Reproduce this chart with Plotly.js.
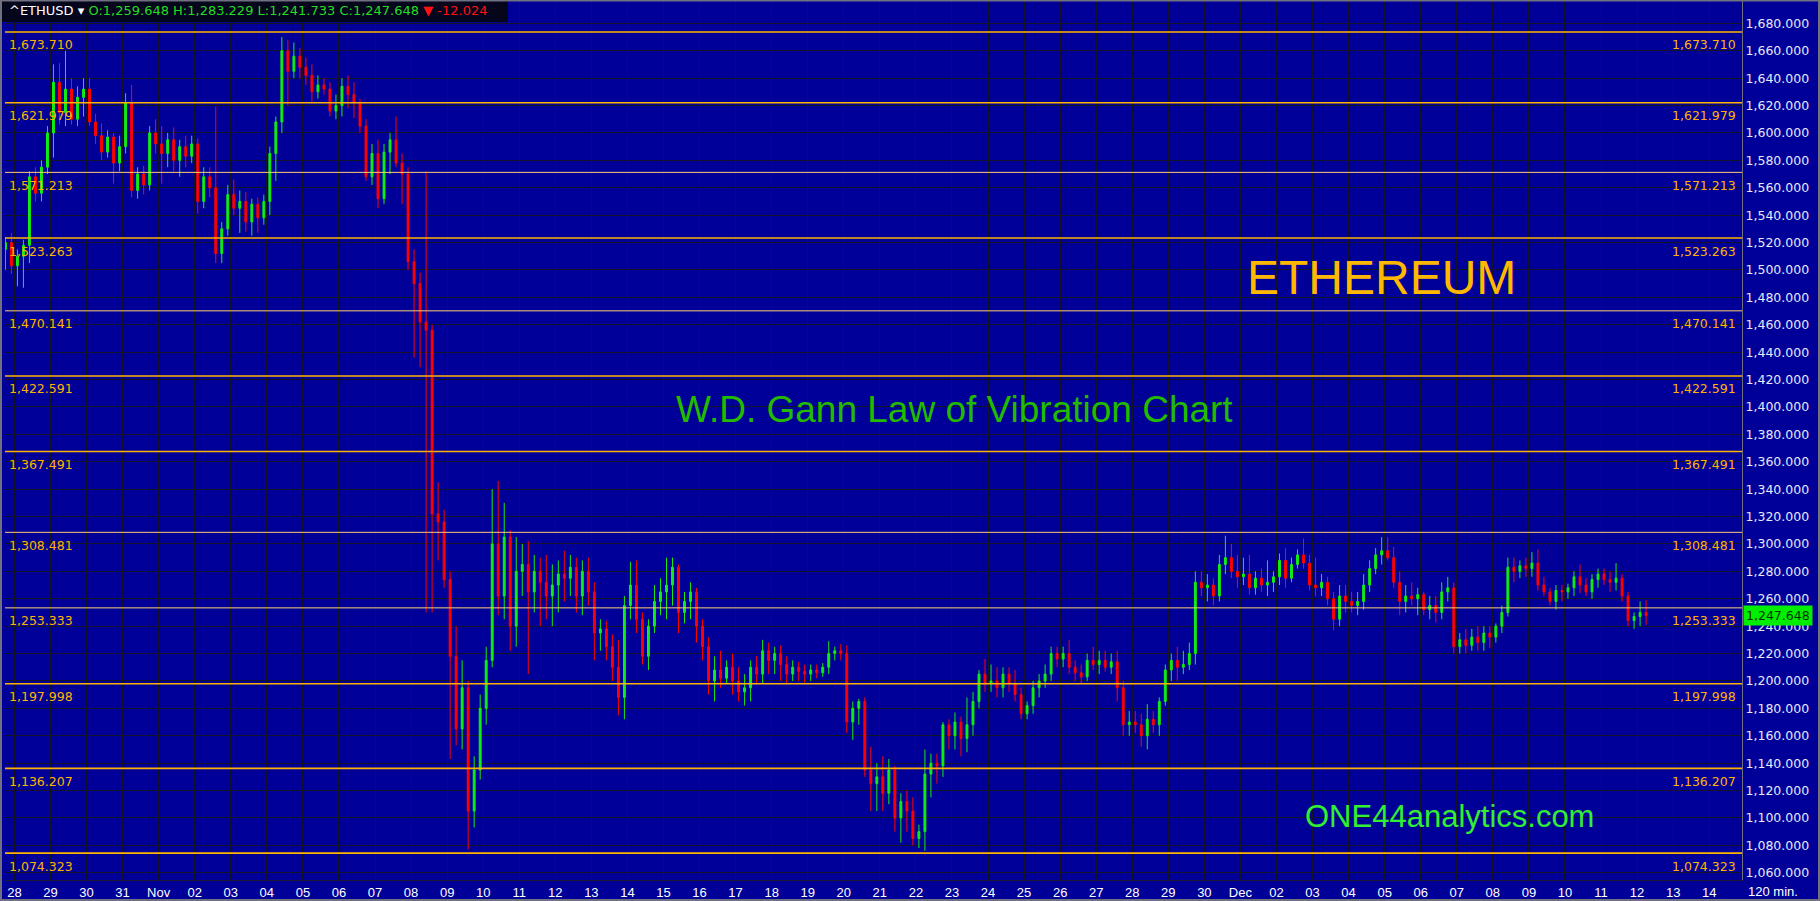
<!DOCTYPE html>
<html>
<head>
<meta charset="utf-8">
<script src="https://cdn.plot.ly/plotly-3.0.1.min.js"></script>
<style>
  html, body { margin: 0; padding: 0; background: #000099; overflow: hidden; }
  #chart { width: 1820px; height: 901px; }
</style>
</head>
<body>
<div id="chart"></div>
<script>
// ---------- DATA (ETHUSD, 4-hour bars) ----------
// first bar: 2022-10-27 16:00 slot; one row per day (6 bars per day)
const openP = [
  1515,1520,
  1503,1510,1518,1568,1556,1575,
  1600,1637,1615,1632,1610,1626,
  1632,1608,1598,1586,1597,1578,
  1590,1622,1558,1570,1562,1600,
  1592,1585,1595,1580,1590,1583,
  1592,1550,1568,1560,1512,1530,
  1555,1545,1550,1535,1548,1538,
  1550,1585,1608,1660,1645,1656,
  1648,1642,1630,1635,1632,1616,
  1620,1634,1628,1622,1605,1568,
  1585,1552,1586,1595,1578,1570,
  1506,1490,1462,1456,1322,1316,
  1274,1218,1165,1195,1105,1135,
  1180,1215,1300,1262,1305,1240,
  1280,1285,1265,1280,1272,1262,
  1270,1278,1275,1283,1262,1280,
  1265,1235,1238,1225,1210,1188,
  1255,1270,1245,1218,1240,1258,
  1265,1270,1283,1250,1258,1265,
  1240,1225,1200,1208,1202,1210,
  1200,1192,1195,1210,1205,1222,
  1215,1220,1212,1205,1210,1207,
  1205,1208,1206,1210,1220,1222,
  1220,1170,1180,1185,1135,1125,
  1130,1118,1135,1100,1112,1105,
  1085,1090,1132,1140,1138,1168,
  1160,1170,1158,1168,1185,1205,
  1198,1200,1195,1205,1198,1190,
  1176,1182,1195,1200,1205,1220,
  1216,1220,1210,1206,1203,1215,
  1212,1215,1210,1214,1195,1168,
  1170,1168,1160,1172,1168,1185,
  1208,1215,1210,1212,1220,1272,
  1268,1270,1262,1285,1290,1280,
  1276,1278,1268,1275,1270,1272,
  1276,1288,1275,1285,1292,1286,
  1270,1268,1272,1260,1245,1262,
  1258,1255,1258,1270,1282,1292,
  1295,1290,1272,1258,1262,1260,
  1263,1252,1255,1250,1265,1268,
  1225,1230,1226,1232,1228,1235,
  1232,1240,1250,1283,1280,1284,
  1282,1286,1270,1265,1258,1266,
  1265,1268,1276,1270,1265,1274,
  1278,1274,1272,1275,1262,1244,
  1247,1250
];
const highP = [
  1524,1527,
  1515,1522,1572,1575,1580,1605,
  1650,1651,1660,1640,1634,1640,
  1640,1614,1607,1602,1600,1598,
  1629,1635,1575,1576,1605,1610,
  1605,1600,1604,1595,1598,1598,
  1596,1575,1575,1619,1535,1562,
  1566,1558,1557,1552,1553,1555,
  1590,1612,1670,1668,1666,1662,
  1655,1650,1642,1640,1637,1628,
  1640,1642,1637,1625,1610,1592,
  1595,1592,1600,1612,1585,1575,
  1515,1498,1572,1460,1345,1325,
  1280,1240,1215,1200,1145,1190,
  1225,1340,1346,1330,1310,1305,
  1300,1302,1292,1290,1292,1285,
  1288,1295,1292,1290,1288,1290,
  1272,1245,1244,1234,1230,1262,
  1287,1288,1250,1245,1270,1275,
  1290,1290,1285,1265,1272,1268,
  1245,1232,1218,1222,1215,1220,
  1210,1205,1215,1218,1230,1228,
  1225,1226,1218,1215,1214,1212,
  1212,1212,1213,1229,1225,1227,
  1226,1185,1187,1188,1152,1140,
  1145,1143,1138,1118,1120,1115,
  1095,1150,1147,1147,1170,1172,
  1177,1174,1188,1192,1208,1216,
  1212,1210,1210,1210,1208,1195,
  1185,1200,1205,1212,1225,1225,
  1225,1230,1215,1212,1220,1225,
  1222,1222,1220,1222,1200,1178,
  1178,1176,1183,1178,1188,1212,
  1220,1225,1222,1228,1280,1280,
  1278,1275,1292,1306,1300,1292,
  1290,1292,1280,1282,1288,1280,
  1293,1297,1290,1296,1304,1292,
  1290,1278,1276,1265,1270,1270,
  1265,1265,1278,1288,1297,1305,
  1305,1298,1280,1270,1272,1268,
  1265,1262,1262,1272,1276,1272,
  1235,1238,1238,1240,1240,1240,
  1242,1255,1290,1290,1288,1290,
  1294,1296,1276,1268,1270,1270,
  1271,1280,1285,1275,1278,1282,
  1282,1280,1286,1278,1265,1250,
  1258,1259
];
const lowP = [
  1500,1497,
  1488,1487,1505,1550,1550,1570,
  1582,1606,1605,1606,1605,1612,
  1605,1592,1580,1582,1563,1572,
  1585,1553,1552,1555,1558,1585,
  1563,1575,1572,1568,1575,1578,
  1541,1545,1553,1505,1505,1525,
  1540,1527,1528,1525,1527,1533,
  1540,1565,1600,1620,1640,1640,
  1635,1623,1625,1628,1612,1610,
  1612,1618,1611,1600,1565,1562,
  1545,1548,1570,1575,1548,1500,
  1436,1429,1250,1250,1288,1268,
  1143,1153,1150,1077,1093,1128,
  1168,1210,1248,1245,1222,1225,
  1262,1205,1250,1240,1245,1240,
  1250,1258,1262,1250,1248,1255,
  1215,1222,1215,1200,1175,1172,
  1245,1235,1212,1208,1235,1248,
  1245,1255,1235,1242,1245,1228,
  1215,1190,1185,1195,1198,1190,
  1185,1182,1185,1198,1198,1205,
  1205,1200,1198,1200,1200,1198,
  1200,1202,1203,1205,1215,1215,
  1162,1157,1168,1130,1105,1105,
  1105,1110,1090,1082,1090,1080,
  1078,1076,1115,1125,1130,1150,
  1150,1145,1148,1160,1180,1192,
  1192,1188,1188,1192,1185,1172,
  1172,1176,1188,1195,1200,1210,
  1210,1205,1200,1198,1200,1208,
  1205,1207,1205,1185,1160,1160,
  1162,1152,1150,1162,1160,1182,
  1200,1200,1205,1208,1212,1262,
  1258,1255,1258,1278,1275,1268,
  1270,1263,1263,1265,1262,1265,
  1270,1268,1272,1282,1282,1266,
  1262,1262,1255,1237,1240,1250,
  1250,1248,1252,1265,1278,1285,
  1288,1268,1248,1250,1255,1248,
  1248,1245,1243,1245,1258,1220,
  1220,1220,1222,1222,1222,1224,
  1228,1235,1247,1272,1275,1276,
  1276,1266,1262,1255,1252,1258,
  1260,1262,1264,1262,1260,1268,
  1270,1265,1266,1258,1240,1238,
  1240,1241
];
const closeP = [
  1520,1503,
  1510,1518,1568,1556,1575,1600,
  1637,1615,1632,1610,1626,1632,
  1608,1598,1586,1597,1578,1590,
  1622,1558,1570,1562,1600,1592,
  1585,1595,1580,1590,1583,1592,
  1550,1568,1560,1512,1530,1555,
  1545,1550,1535,1548,1538,1550,
  1585,1608,1660,1645,1656,1648,
  1642,1630,1635,1632,1616,1620,
  1634,1628,1622,1605,1568,1585,
  1552,1586,1595,1578,1570,1506,
  1490,1462,1456,1322,1316,1274,
  1218,1165,1195,1105,1135,1180,
  1215,1300,1262,1305,1240,1280,
  1285,1265,1280,1272,1262,1270,
  1278,1275,1283,1262,1280,1265,
  1235,1238,1225,1210,1188,1255,
  1270,1245,1218,1240,1258,1265,
  1270,1283,1250,1258,1265,1240,
  1225,1200,1208,1202,1210,1200,
  1192,1195,1210,1205,1222,1215,
  1220,1212,1205,1210,1207,1205,
  1208,1206,1210,1220,1222,1220,
  1170,1180,1185,1135,1125,1130,
  1118,1135,1100,1112,1105,1085,
  1090,1132,1140,1138,1168,1160,
  1170,1158,1168,1185,1205,1198,
  1200,1195,1205,1198,1190,1176,
  1182,1195,1200,1205,1220,1216,
  1220,1210,1206,1203,1215,1212,
  1215,1210,1214,1195,1168,1170,
  1168,1160,1172,1168,1185,1208,
  1215,1210,1212,1220,1272,1268,
  1270,1262,1285,1290,1280,1276,
  1278,1268,1275,1270,1272,1276,
  1288,1275,1285,1292,1286,1270,
  1268,1272,1260,1245,1262,1258,
  1255,1258,1270,1282,1292,1295,
  1290,1272,1258,1262,1260,1263,
  1252,1255,1250,1265,1268,1225,
  1230,1226,1232,1228,1235,1232,
  1240,1250,1283,1280,1284,1282,
  1286,1270,1265,1258,1266,1265,
  1268,1276,1270,1265,1274,1278,
  1274,1272,1275,1262,1244,1247,
  1250,1247.648
];
// x-axis day labels (Oct 28 .. Dec 14)
const dayLabels = ['28','29','30','31','Nov','02','03','04','05','06','07','08','09','10','11','12','13','14','15','16','17','18','19','20','21','22','23','24','25','26','27','28','29','30','Dec','02','03','04','05','06','07','08','09','10','11','12','13','14'];
// Gann vibration levels
const levels = [1673.710, 1621.979, 1571.213, 1523.263, 1470.141, 1422.591, 1367.491, 1308.481, 1253.333, 1197.998, 1136.207, 1074.323];
const levelLabels = ['1,673.710','1,621.979','1,571.213','1,523.263','1,470.141','1,422.591','1,367.491','1,308.481','1,253.333','1,197.998','1,136.207','1,074.323'];
// header quote
const symbol = '^ETHUSD';
const quote = {O: '1,259.648', H: '1,283.229', L: '1,241.733', C: '1,247.648'};
const change = '-12.024';
const lastPrice = 1247.648;
const lastPriceLabel = '1,247.648';

// ---------- STYLE ----------
const thinLevel = [false,false,true,false,true,false,false,true,true,false,false,false];
const HOUR = 3600000, DAY = 24*HOUR;
const firstBar = Date.UTC(2022, 9, 27, 18);      // mid of first 4h bar
const firstDay = Date.UTC(2022, 9, 28);
const xs = closeP.map((_, i) => firstBar + i*4*HOUR);
const tickVals = dayLabels.map((_, i) => firstDay + i*DAY);

const BG = '#000099';
const GRID = '#141426';
const ORANGE = '#ffb300';

const trace = {
  type: 'candlestick',
  x: xs, open: openP, high: highP, low: lowP, close: closeP,
  increasing: {line: {color: '#11ee11', width: 1}, fillcolor: '#11ee11'},
  decreasing: {line: {color: '#ff0000', width: 1}, fillcolor: '#ff0000'},
  whiskerwidth: 0,
  hoverinfo: 'skip',
  showlegend: false
};

const W = 1820, H = 901, ML = 5, MR = 78, MT = 1, MB = 21;
const PW = W - ML - MR, PH = H - MT - MB;
const px = v => (v - ML) / PW;          // pixel x -> paper
const py = v => (H - MB - v) / PH;      // pixel y -> paper

const shapes = [];
const annotations = [];
levels.forEach((lv, i) => {
  shapes.push({type: 'line', xref: 'paper', yref: 'y', x0: 0, x1: 1, y0: lv, y1: lv,
    line: {color: thinLevel[i] ? '#ffcf70' : ORANGE, width: thinLevel[i] ? 1 : 1.6}, layer: 'above'});
  annotations.push({xref: 'paper', yref: 'y', x: 0, y: lv, xanchor: 'left', yanchor: 'middle',
    xshift: 2, yshift: -13, text: levelLabels[i], showarrow: false,
    font: {family: 'DejaVu Sans', size: 12.5, color: ORANGE}});
  annotations.push({xref: 'paper', yref: 'y', x: 1, y: lv, xanchor: 'right', yanchor: 'middle',
    xshift: -4, yshift: -13, text: levelLabels[i], showarrow: false,
    font: {family: 'DejaVu Sans', size: 12.5, color: ORANGE}});
});

// header box
shapes.push({type: 'rect', xref: 'paper', yref: 'paper', x0: px(0), x1: px(508), y0: py(22), y1: py(0),
  fillcolor: '#05051c', line: {width: 0}, layer: 'above'});
// frame
shapes.push({type: 'rect', xref: 'paper', yref: 'paper', x0: px(1), x1: px(1819), y0: py(900), y1: py(0.5),
  fillcolor: 'rgba(0,0,0,0)', line: {color: '#707080', width: 2}, layer: 'above'});

annotations.push({xref: 'paper', yref: 'paper', x: px(7), y: py(11), xanchor: 'left', yanchor: 'middle',
  showarrow: false,
  text: '<span style="color:#ffffff">' + symbol + ' ▾</span> ' +
        '<span style="color:#22dd22">O:' + quote.O + ' H:' + quote.H + ' L:' + quote.L + ' C:' + quote.C + '</span> ' +
        '<span style="color:#ff1111">▼ ' + change + '</span>',
  font: {family: 'DejaVu Sans', size: 13, color: '#ffffff'}});

annotations.push({xref: 'paper', yref: 'paper', x: px(1381), y: py(278), xanchor: 'center', yanchor: 'middle',
  showarrow: false, text: 'ETHEREUM', font: {family: 'Liberation Sans', size: 48, color: '#ffb800'}});
annotations.push({xref: 'paper', yref: 'paper', x: px(954), y: py(410), xanchor: 'center', yanchor: 'middle',
  showarrow: false, text: 'W.D. Gann Law of Vibration Chart', font: {family: 'Liberation Sans', size: 37, color: '#22bb00'}});
annotations.push({xref: 'paper', yref: 'paper', x: px(1449), y: py(816), xanchor: 'center', yanchor: 'middle',
  showarrow: false, text: 'ONE44analytics.com', font: {family: 'Liberation Sans', size: 31, color: '#33ee33'}});

annotations.push({xref: 'paper', yref: 'y', x: 1, y: lastPrice, xanchor: 'left', yanchor: 'middle', xshift: 1,
  showarrow: false, text: lastPriceLabel, bgcolor: '#00ee00', borderpad: 2,
  font: {family: 'DejaVu Sans', size: 12.5, color: '#003300'}});
annotations.push({xref: 'paper', yref: 'paper', x: px(1746), y: py(891), xanchor: 'left', yanchor: 'middle',
  showarrow: false, text: '120 min.', font: {family: 'Liberation Sans', size: 13, color: '#ffffff'}});

const layout = {
  width: W, height: H,
  margin: {l: ML, r: MR, t: MT, b: MB, pad: 0},
  paper_bgcolor: BG, plot_bgcolor: BG,
  showlegend: false,
  dragmode: false,
  boxgap: 0.55,
  xaxis: {
    type: 'date',
    range: ['2022-10-27 17:44', '2022-12-14 21:50'],
    rangeslider: {visible: false},
    tickmode: 'array', tickvals: tickVals, ticktext: dayLabels,
    showgrid: true, gridcolor: GRID, gridwidth: 1,
    zeroline: false, showline: true, linecolor: '#1a1a2a', linewidth: 1,
    ticks: '', tickfont: {family: 'Liberation Sans', size: 13, color: '#ffffff'},
    fixedrange: true
  },
  yaxis: {
    side: 'right',
    range: [1054.7, 1696.3],
    tickmode: 'linear', tick0: 1060, dtick: 20,
    tickformat: ',.3f',
    showgrid: true, gridcolor: GRID, gridwidth: 1,
    zeroline: false, showline: true, linecolor: '#707080', linewidth: 1,
    ticks: '', tickfont: {family: 'DejaVu Sans', size: 12.5, color: '#e8e8f8'},
    fixedrange: true
  },
  shapes: shapes,
  annotations: annotations
};

Plotly.newPlot('chart', [trace], layout, {staticPlot: true, displayModeBar: false});
</script>
</body>
</html>
